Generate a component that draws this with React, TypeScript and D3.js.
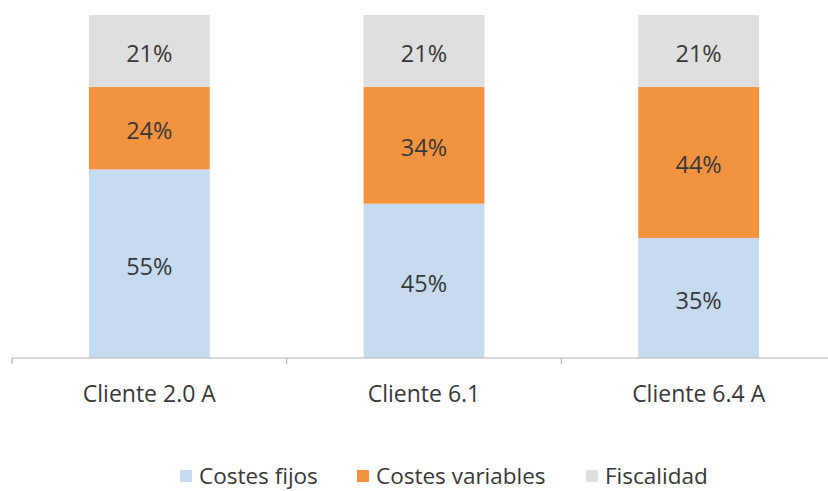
import React from "react";
import * as d3 from "d3";

// Share of total cost by client tariff (percent)
const categories = ["Cliente 2.0 A", "Cliente 6.1", "Cliente 6.4 A"];
const costesFijos = [55, 45, 35];
const costesVariables = [24, 34, 44];
const fiscalidad = [21, 21, 21];

const seriesNames = ["Costes fijos", "Costes variables", "Fiscalidad"];
const seriesColors = ["#c6dbf0", "#f4933f", "#dfdfdf"];

const W = 828;
const H = 491;
const FONT = "'Open Sans', 'Noto Sans', sans-serif";
const TEXT = "#383838";

export default function App() {
  const rows = categories.map((c, i) => ({
    cat: c,
    fijos: costesFijos[i],
    variables: costesVariables[i],
    fisc: fiscalidad[i],
  }));
  const keys = ["fijos", "variables", "fisc"];
  const stacked = d3.stack<any>().keys(keys)(rows);

  const x = d3
    .scaleBand<string>()
    .domain(categories)
    .range([12, 836])
    .paddingInner(0.56)
    .paddingOuter(0.28);
  const y = d3.scaleLinear().domain([0, 100]).range([358, 15]);

  const step = x.step();
  const tickXs = d3.range(categories.length + 1).map((i) => 12 + i * step);

  // legend layout: swatch x for each entry
  const legendX = [180, 357, 586];

  return (
    <div style={{ position: "fixed", left: 0, top: 0 }}>
      <svg width={W} height={H} style={{ display: "block", background: "#fff" }}>
        {stacked.map((layer, si) => (
          <g key={si}>
            {layer.map((d, i) => {
              const x0 = x(categories[i])!;
              const y0 = y(d[1]);
              const h = y(d[0]) - y(d[1]);
              const v = d[1] - d[0];
              return (
                <g key={i}>
                  <rect x={x0} y={y0} width={x.bandwidth()} height={h} fill={seriesColors[si]} />
                  <text
                    x={x0 + x.bandwidth() / 2}
                    y={y0 + h / 2 + 2}
                    textAnchor="middle"
                    dominantBaseline="central"
                    fontFamily={FONT}
                    fontSize={23.5}
                    fill={TEXT}
                  >
                    {`${v}%`}
                  </text>
                </g>
              );
            })}
          </g>
        ))}

        {/* category axis */}
        <line x1={12} x2={W} y1={358} y2={358} stroke="#b4b4b4" strokeWidth={1.2} />
        {tickXs.map((tx, i) => (
          <line key={i} x1={tx} x2={tx} y1={358} y2={364} stroke="#b4b4b4" strokeWidth={1.2} />
        ))}
        {categories.map((c) => (
          <text
            key={c}
            x={x(c)! + x.bandwidth() / 2}
            y={402}
            textAnchor="middle"
            fontFamily={FONT}
            fontSize={23}
            fill={TEXT}
          >
            {c}
          </text>
        ))}

        {/* legend */}
        {seriesNames.map((n, i) => (
          <g key={n}>
            <rect x={legendX[i]} y={470} width={12} height={12} fill={seriesColors[i]} />
            <text x={legendX[i] + 19} y={484} fontFamily={FONT} fontSize={22.5} fill={TEXT}>
              {n}
            </text>
          </g>
        ))}
      </svg>
    </div>
  );
}
